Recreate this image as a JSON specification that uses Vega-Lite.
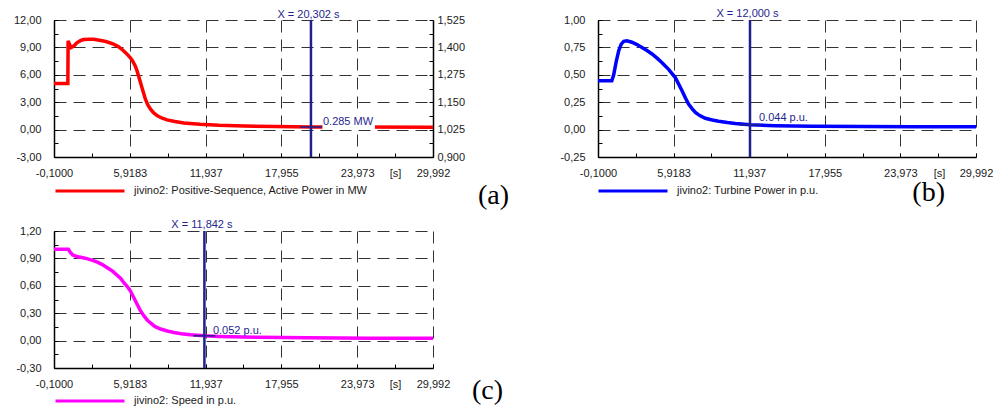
{
  "$schema": "https://vega.github.io/schema/vega-lite/v6.json",
  "background": "white",
  "padding": {"left": 13, "top": 8, "right": 5, "bottom": 5},
  "datasets": {
    "power": [
      {"t": -0.1, "v": 5.05}, {"t": 1.0, "v": 5.05}, {"t": 1.02, "v": 9.72}, {"t": 1.25, "v": 8.98},
      {"t": 1.5, "v": 9.18}, {"t": 1.71, "v": 9.5}, {"t": 2.0, "v": 9.74}, {"t": 2.24, "v": 9.86},
      {"t": 2.7, "v": 9.9}, {"t": 3.03, "v": 9.89}, {"t": 3.4, "v": 9.82}, {"t": 3.83, "v": 9.71},
      {"t": 4.2, "v": 9.56}, {"t": 4.62, "v": 9.35}, {"t": 5.0, "v": 9.1}, {"t": 5.29, "v": 8.8},
      {"t": 5.6, "v": 8.4}, {"t": 5.95, "v": 7.89}, {"t": 6.15, "v": 7.5}, {"t": 6.35, "v": 6.98},
      {"t": 6.5, "v": 6.4}, {"t": 6.61, "v": 5.89}, {"t": 6.75, "v": 5.25}, {"t": 6.88, "v": 4.62},
      {"t": 7.0, "v": 4.05}, {"t": 7.15, "v": 3.35}, {"t": 7.35, "v": 2.7}, {"t": 7.55, "v": 2.26},
      {"t": 7.8, "v": 1.85}, {"t": 8.08, "v": 1.53}, {"t": 8.45, "v": 1.27}, {"t": 8.87, "v": 1.06},
      {"t": 9.5, "v": 0.88}, {"t": 10.2, "v": 0.73}, {"t": 11.5, "v": 0.58}, {"t": 13.0, "v": 0.47},
      {"t": 15.0, "v": 0.39}, {"t": 17.5, "v": 0.33}, {"t": 20.302, "v": 0.285}, {"t": 24.0, "v": 0.275},
      {"t": 29.992, "v": 0.27}
    ],
    "turbine": [
      {"t": -0.1, "v": 0.445}, {"t": 1.0, "v": 0.445}, {"t": 1.15, "v": 0.5}, {"t": 1.35, "v": 0.62},
      {"t": 1.55, "v": 0.72}, {"t": 1.75, "v": 0.78}, {"t": 1.95, "v": 0.805}, {"t": 2.2, "v": 0.81},
      {"t": 2.6, "v": 0.797}, {"t": 3.0, "v": 0.776}, {"t": 3.4, "v": 0.75}, {"t": 3.8, "v": 0.722},
      {"t": 4.2, "v": 0.69}, {"t": 4.6, "v": 0.652}, {"t": 5.0, "v": 0.61}, {"t": 5.52, "v": 0.55},
      {"t": 6.05, "v": 0.475}, {"t": 6.3, "v": 0.42}, {"t": 6.59, "v": 0.355}, {"t": 6.85, "v": 0.29},
      {"t": 7.11, "v": 0.233}, {"t": 7.4, "v": 0.19}, {"t": 7.65, "v": 0.157}, {"t": 8.0, "v": 0.128},
      {"t": 8.44, "v": 0.103}, {"t": 9.0, "v": 0.087}, {"t": 9.5, "v": 0.076}, {"t": 10.2, "v": 0.064},
      {"t": 10.83, "v": 0.055}, {"t": 12.0, "v": 0.044}, {"t": 14.0, "v": 0.036}, {"t": 17.0, "v": 0.031},
      {"t": 21.0, "v": 0.028}, {"t": 25.0, "v": 0.027}, {"t": 29.992, "v": 0.026}
    ],
    "speed": [
      {"t": -0.1, "v": 1.0}, {"t": 1.04, "v": 1.0}, {"t": 1.2, "v": 0.965}, {"t": 1.39, "v": 0.938},
      {"t": 1.71, "v": 0.92}, {"t": 2.1, "v": 0.91}, {"t": 2.51, "v": 0.898}, {"t": 2.9, "v": 0.882},
      {"t": 3.3, "v": 0.862}, {"t": 3.7, "v": 0.835}, {"t": 4.1, "v": 0.8}, {"t": 4.5, "v": 0.765},
      {"t": 4.9, "v": 0.717}, {"t": 5.2, "v": 0.68}, {"t": 5.43, "v": 0.636}, {"t": 5.7, "v": 0.595},
      {"t": 5.96, "v": 0.545}, {"t": 6.2, "v": 0.48}, {"t": 6.49, "v": 0.4}, {"t": 6.75, "v": 0.33},
      {"t": 7.03, "v": 0.273}, {"t": 7.3, "v": 0.225}, {"t": 7.56, "v": 0.193}, {"t": 7.9, "v": 0.155},
      {"t": 8.36, "v": 0.127}, {"t": 8.9, "v": 0.105}, {"t": 9.42, "v": 0.088}, {"t": 10.0, "v": 0.076},
      {"t": 10.75, "v": 0.063}, {"t": 11.842, "v": 0.052}, {"t": 13.0, "v": 0.045}, {"t": 16.0, "v": 0.036},
      {"t": 20.0, "v": 0.03}, {"t": 25.0, "v": 0.027}, {"t": 29.992, "v": 0.025}
    ],
    "cursors": [
      {"panel": "a", "t": 20.302, "v": 0.285, "xlabel": "X = 20,302 s", "vlabel": "0.285 MW"},
      {"panel": "b", "t": 12.0, "v": 0.044, "xlabel": "X = 12,000 s", "vlabel": "0.044 p.u."},
      {"panel": "c", "t": 11.842, "v": 0.052, "xlabel": "X = 11,842 s", "vlabel": "0.052 p.u."}
    ]
  },
  "columns": 2,
  "spacing": {"row": 74, "column": 165},
  "bounds": "flush",
  "resolve": {"scale": {"color": "independent"}, "legend": {"color": "independent"}},
  "concat": [
    {
      "width": 379,
      "height": 137,
      "title": {"text": "(a)", "dx": 76, "offset": -15},
      "layer": [
        {
          "layer": [
            {
              "data": {"name": "power"},
              "mark": {"type": "line", "strokeWidth": 3.5, "clip": true},
              "encoding": {
                "x": {
                  "field": "t", "type": "quantitative",
                  "scale": {"domain": [-0.1, 29.992], "nice": false, "zero": false},
                  "axis": {
                    "title": "[s]", "titleX": 341, "titleY": 10, "tickCount": 100,
                    "values": [-0.1, 2.9092, 5.9183, 8.9275, 11.937, 14.946, 17.955, 20.964, 23.973, 26.983, 29.992],
                    "labelExpr": "round((datum.value + 0.1) / 3.0092) % 2 == 0 ? replace(replace(datum.value < 10 ? format(datum.value, '.4f') : format(datum.value, '.3f'), '.', ','), '\u2212', '-') : ''",
                    "gridOpacity": {"condition": {"test": "round((datum.value + 0.1) / 3.0092) % 2 == 0", "value": 1}, "value": 0}
                  }
                },
                "y": {
                  "field": "v", "type": "quantitative",
                  "scale": {"domain": [-3, 12], "nice": false, "zero": false},
                  "axis": {
                    "title": null, "tickCount": 100,
                    "values": [-3, -1.5, 0, 1.5, 3, 4.5, 6, 7.5, 9, 10.5, 12],
                    "labelExpr": "datum.value % 3 == 0 ? replace(replace(format(datum.value, '.2f'), '.', ','), '\u2212', '-') : ''",
                    "gridOpacity": {"condition": {"test": "datum.value % 3 == 0", "value": 1}, "value": 0}
                  }
                },
                "color": {
                  "datum": "jivino2: Positive-Sequence, Active Power in MW", "type": "nominal",
                  "scale": {"range": ["#ff0000"]},
                  "legend": {"orient": "none", "legendX": 0, "legendY": 135}
                }
              }
            },
            {
              "data": {"name": "cursors"},
              "transform": [{"filter": "datum.panel == 'a'"}],
              "layer": [
                {
                  "mark": {"type": "rule", "color": "#1f1f8f", "strokeWidth": 2.5},
                  "encoding": {"x": {"field": "t", "type": "quantitative"}}
                },
                {
                  "mark": {"type": "rule", "color": "#1f1f8f", "strokeWidth": 1.5, "xOffset": -11, "x2Offset": 11},
                  "encoding": {
                    "x": {"field": "t", "type": "quantitative"}, "x2": {"field": "t"},
                    "y": {"field": "v", "type": "quantitative"}
                  }
                },
                {
                  "mark": {"type": "rect", "color": "white", "xOffset": 11.5, "x2Offset": 64, "yOffset": -12, "y2Offset": 2.4},
                  "encoding": {
                    "x": {"field": "t", "type": "quantitative"}, "x2": {"field": "t"},
                    "y": {"field": "v", "type": "quantitative"}, "y2": {"field": "v"}
                  }
                },
                {
                  "mark": {"type": "text", "align": "left", "baseline": "alphabetic", "dx": 12, "dy": -2, "color": "#1f1f8f", "fontSize": 11},
                  "encoding": {
                    "x": {"field": "t", "type": "quantitative"},
                    "y": {"field": "v", "type": "quantitative"},
                    "text": {"field": "vlabel"}
                  }
                }
              ]
            }
          ]
        },
        {
          "data": {"name": "cursors"},
          "transform": [{"filter": "datum.panel == 'a'"}],
          "mark": {"type": "text", "align": "center", "baseline": "alphabetic", "dx": -2.5, "dy": -2.5, "color": "#1f1f8f", "fontSize": 11},
          "encoding": {
            "x": {"field": "t", "type": "quantitative"},
            "y": {
              "datum": 1.525, "type": "quantitative",
              "scale": {"domain": [0.9, 1.525], "nice": false, "zero": false},
              "axis": {
                "orient": "right", "title": null, "grid": false, "labelPadding": 8, "tickCount": 100,
                "values": [0.9, 0.9625, 1.025, 1.0875, 1.15, 1.2125, 1.275, 1.3375, 1.4, 1.4625, 1.525],
                "labelExpr": "round((datum.value - 0.9) / 0.0625) % 2 == 0 ? replace(format(datum.value, '.3f'), '.', ',') : ''"
              }
            },
            "text": {"field": "xlabel"}
          }
        }
      ],
      "resolve": {"scale": {"y": "independent"}}
    },
    {
      "width": 378,
      "height": 137,
      "title": {"text": "(b)", "dx": -31, "offset": -18},
      "layer": [
        {
          "data": {"name": "turbine"},
          "mark": {"type": "line", "strokeWidth": 3.5, "clip": true},
          "encoding": {
            "x": {
              "field": "t", "type": "quantitative",
              "scale": {"domain": [-0.1, 29.992], "nice": false, "zero": false},
              "axis": {
                "title": "[s]", "titleX": 341, "titleY": 10, "tickCount": 100,
                "values": [-0.1, 2.9092, 5.9183, 8.9275, 11.937, 14.946, 17.955, 20.964, 23.973, 26.983, 29.992],
                "labelExpr": "round((datum.value + 0.1) / 3.0092) % 2 == 0 ? replace(replace(datum.value < 10 ? format(datum.value, '.4f') : format(datum.value, '.3f'), '.', ','), '\u2212', '-') : ''",
                "gridOpacity": {"condition": {"test": "round((datum.value + 0.1) / 3.0092) % 2 == 0", "value": 1}, "value": 0}
              }
            },
            "y": {
              "field": "v", "type": "quantitative",
              "scale": {"domain": [-0.25, 1], "nice": false, "zero": false},
              "axis": {
                "title": null, "tickCount": 100,
                "values": [-0.25, -0.125, 0, 0.125, 0.25, 0.375, 0.5, 0.625, 0.75, 0.875, 1],
                "labelExpr": "round(datum.value * 8) % 2 == 0 ? replace(replace(format(datum.value, '.2f'), '.', ','), '\u2212', '-') : ''",
                "gridOpacity": {"condition": {"test": "round(datum.value * 8) % 2 == 0", "value": 1}, "value": 0}
              }
            },
            "color": {
              "datum": "jivino2: Turbine Power in p.u.", "type": "nominal",
              "scale": {"range": ["#0000ff"]},
              "legend": {"orient": "none", "legendX": -1, "legendY": 135}
            }
          }
        },
        {
          "data": {"name": "cursors"},
          "transform": [{"filter": "datum.panel == 'b'"}],
          "layer": [
            {
              "mark": {"type": "rule", "color": "#1f1f8f", "strokeWidth": 2.5},
              "encoding": {"x": {"field": "t", "type": "quantitative"}}
            },
            {
              "mark": {"type": "rule", "color": "#1f1f8f", "strokeWidth": 1.5, "xOffset": -11, "x2Offset": 11},
              "encoding": {
                "x": {"field": "t", "type": "quantitative"}, "x2": {"field": "t"},
                "y": {"field": "v", "type": "quantitative"}
              }
            },
            {
              "mark": {"type": "text", "align": "left", "baseline": "alphabetic", "dx": 9, "dy": -3.5, "color": "#1f1f8f", "fontSize": 11},
              "encoding": {
                "x": {"field": "t", "type": "quantitative"},
                "y": {"field": "v", "type": "quantitative"},
                "text": {"field": "vlabel"}
              }
            },
            {
              "mark": {"type": "text", "align": "center", "baseline": "alphabetic", "dx": -2.5, "dy": -3, "color": "#1f1f8f", "fontSize": 11},
              "encoding": {
                "x": {"field": "t", "type": "quantitative"},
                "y": {"datum": 1, "type": "quantitative"},
                "text": {"field": "xlabel"}
              }
            }
          ]
        }
      ]
    },
    {
      "width": 379,
      "height": 137,
      "title": {"text": "(c)", "dx": 70, "offset": -30},
      "layer": [
        {
          "data": {"name": "speed"},
          "mark": {"type": "line", "strokeWidth": 3.5, "clip": true},
          "encoding": {
            "x": {
              "field": "t", "type": "quantitative",
              "scale": {"domain": [-0.1, 29.992], "nice": false, "zero": false},
              "axis": {
                "title": "[s]", "titleX": 341, "titleY": 10, "tickCount": 100,
                "values": [-0.1, 2.9092, 5.9183, 8.9275, 11.937, 14.946, 17.955, 20.964, 23.973, 26.983, 29.992],
                "labelExpr": "round((datum.value + 0.1) / 3.0092) % 2 == 0 ? replace(replace(datum.value < 10 ? format(datum.value, '.4f') : format(datum.value, '.3f'), '.', ','), '\u2212', '-') : ''",
                "gridOpacity": {"condition": {"test": "round((datum.value + 0.1) / 3.0092) % 2 == 0", "value": 1}, "value": 0}
              }
            },
            "y": {
              "field": "v", "type": "quantitative",
              "scale": {"domain": [-0.3, 1.2], "nice": false, "zero": false},
              "axis": {
                "title": null, "tickCount": 100,
                "values": [-0.3, -0.15, 0, 0.15, 0.3, 0.45, 0.6, 0.75, 0.9, 1.05, 1.2],
                "labelExpr": "round(datum.value / 0.15) % 2 == 0 ? replace(replace(format(datum.value, '.2f'), '.', ','), '\u2212', '-') : ''",
                "gridOpacity": {"condition": {"test": "round(datum.value / 0.15) % 2 == 0", "value": 1}, "value": 0}
              }
            },
            "color": {
              "datum": "jivino2: Speed in p.u.", "type": "nominal",
              "scale": {"range": ["#ff00ff"]},
              "legend": {"orient": "none", "legendX": 0, "legendY": 134}
            }
          }
        },
        {
          "data": {"name": "cursors"},
          "transform": [{"filter": "datum.panel == 'c'"}],
          "layer": [
            {
              "mark": {"type": "rule", "color": "#1f1f8f", "strokeWidth": 2.5},
              "encoding": {"x": {"field": "t", "type": "quantitative"}}
            },
            {
              "mark": {"type": "rule", "color": "#1f1f8f", "strokeWidth": 1.5, "xOffset": -11, "x2Offset": 11},
              "encoding": {
                "x": {"field": "t", "type": "quantitative"}, "x2": {"field": "t"},
                "y": {"field": "v", "type": "quantitative"}
              }
            },
            {
              "mark": {"type": "text", "align": "left", "baseline": "alphabetic", "dx": 8.5, "dy": -2, "color": "#1f1f8f", "fontSize": 11},
              "encoding": {
                "x": {"field": "t", "type": "quantitative"},
                "y": {"field": "v", "type": "quantitative"},
                "text": {"field": "vlabel"}
              }
            },
            {
              "mark": {"type": "text", "align": "center", "baseline": "alphabetic", "dx": -2.5, "dy": -3, "color": "#1f1f8f", "fontSize": 11},
              "encoding": {
                "x": {"field": "t", "type": "quantitative"},
                "y": {"datum": 1.2, "type": "quantitative"},
                "text": {"field": "xlabel"}
              }
            }
          ]
        }
      ]
    }
  ],
  "config": {
    "font": "Liberation Sans",
    "view": {"stroke": null},
    "axis": {
      "labelFont": "Liberation Sans",
      "labelFontSize": 11,
      "labelColor": "#1a1a1a",
      "labelFlush": false,
      "labelOverlap": false,
      "domainColor": "#000000",
      "domainWidth": 1.5,
      "tickColor": "#000000",
      "tickWidth": 1,
      "tickSize": -4,
      "grid": true,
      "gridColor": "#333333",
      "gridWidth": 1,
      "gridDash": [12, 7],
      "titleFont": "Liberation Sans",
      "titleFontSize": 11,
      "titleFontWeight": "normal",
      "titleColor": "#1a1a1a",
      "titleAlign": "center",
      "titleBaseline": "top"
    },
    "axisX": {"labelPadding": 14},
    "axisY": {"labelPadding": 17},
    "legend": {
      "title": null,
      "padding": 0,
      "symbolType": "stroke",
      "symbolSize": 4761,
      "symbolStrokeWidth": 3,
      "labelFont": "Liberation Sans",
      "labelFontSize": 11,
      "labelColor": "#1a1a1a",
      "labelLimit": 500,
      "labelOffset": 8
    },
    "title": {
      "orient": "bottom",
      "anchor": "end",
      "frame": "group",
      "font": "Liberation Serif",
      "fontSize": 28,
      "fontWeight": "normal",
      "color": "#000000"
    }
  }
}
